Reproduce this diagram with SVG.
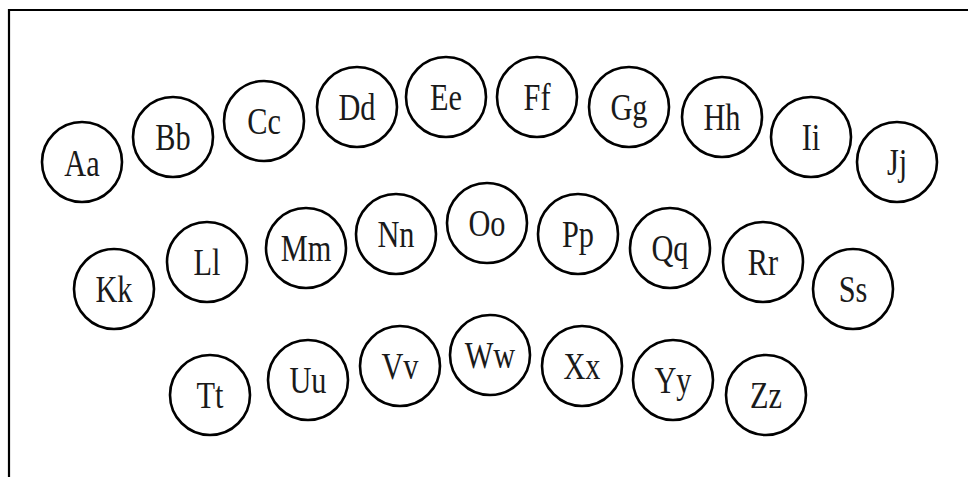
<svg xmlns="http://www.w3.org/2000/svg" width="968" height="477" viewBox="0 0 968 477">
<style>
circle{fill:#fff;stroke:#000;stroke-width:2.6}
text{font-family:"Liberation Serif","Times New Roman",serif;font-size:37px;text-anchor:middle;fill:#1a1a1a}
.frame{fill:none;stroke:#000;stroke-width:2.2}
</style>
<rect width="968" height="477" fill="#fff"/>
<path class="frame" d="M968 10 H9 V477"/>
<g id="connectors"></g>
<g id="n-a" transform="translate(82,162)"><circle r="40"/><text y="14" transform="scale(0.82,1)">Aa</text></g>
<g id="n-b" transform="translate(173,137)"><circle r="40"/><text y="13" transform="scale(0.82,1)">Bb</text></g>
<g id="n-c" transform="translate(264,121)"><circle r="40"/><text y="13" transform="scale(0.82,1)">Cc</text></g>
<g id="n-d" transform="translate(357,107)"><circle r="40"/><text y="13" transform="scale(0.82,1)">Dd</text></g>
<g id="n-e" transform="translate(446,97)"><circle r="40"/><text y="13" transform="scale(0.82,1)">Ee</text></g>
<g id="n-f" transform="translate(537,97)"><circle r="40"/><text y="13" transform="scale(0.82,1)">Ff</text></g>
<g id="n-g" transform="translate(629,107)"><circle r="40"/><text y="13" transform="scale(0.82,1)">Gg</text></g>
<g id="n-h" transform="translate(722,117)"><circle r="40"/><text y="13" transform="scale(0.82,1)">Hh</text></g>
<g id="n-i" transform="translate(811,137)"><circle r="40"/><text y="13" transform="scale(0.82,1)">Ii</text></g>
<g id="n-j" transform="translate(897,162)"><circle r="40"/><text y="13" transform="scale(0.82,1)">Jj</text></g>
<g id="n-k" transform="translate(114,289)"><circle r="40"/><text y="13" transform="scale(0.82,1)">Kk</text></g>
<g id="n-l" transform="translate(207,262)"><circle r="40"/><text y="13" transform="scale(0.82,1)">Ll</text></g>
<g id="n-m" transform="translate(306,248)"><circle r="40"/><text y="13" transform="scale(0.82,1)">Mm</text></g>
<g id="n-n" transform="translate(396,234)"><circle r="40"/><text y="13" transform="scale(0.82,1)">Nn</text></g>
<g id="n-o" transform="translate(487,223)"><circle r="40"/><text y="13" transform="scale(0.82,1)">Oo</text></g>
<g id="n-p" transform="translate(578,234)"><circle r="40"/><text y="13" transform="scale(0.82,1)">Pp</text></g>
<g id="n-q" transform="translate(670,248)"><circle r="40"/><text y="13" transform="scale(0.82,1)">Qq</text></g>
<g id="n-r" transform="translate(763,262)"><circle r="40"/><text y="13" transform="scale(0.82,1)">Rr</text></g>
<g id="n-s" transform="translate(853,289)"><circle r="40"/><text y="13" transform="scale(0.82,1)">Ss</text></g>
<g id="n-t" transform="translate(210,395)"><circle r="40"/><text y="13" transform="scale(0.82,1)">Tt</text></g>
<g id="n-u" transform="translate(308,380)"><circle r="40"/><text y="13" transform="scale(0.82,1)">Uu</text></g>
<g id="n-v" transform="translate(400,366)"><circle r="40"/><text y="13" transform="scale(0.82,1)">Vv</text></g>
<g id="n-w" transform="translate(490,355)"><circle r="40"/><text y="13" transform="scale(0.82,1)">Ww</text></g>
<g id="n-x" transform="translate(582,366)"><circle r="40"/><text y="13" transform="scale(0.82,1)">Xx</text></g>
<g id="n-y" transform="translate(673,380)"><circle r="40"/><text y="13" transform="scale(0.82,1)">Yy</text></g>
<g id="n-z" transform="translate(766,395)"><circle r="40"/><text y="13" transform="scale(0.82,1)">Zz</text></g>
</svg>
